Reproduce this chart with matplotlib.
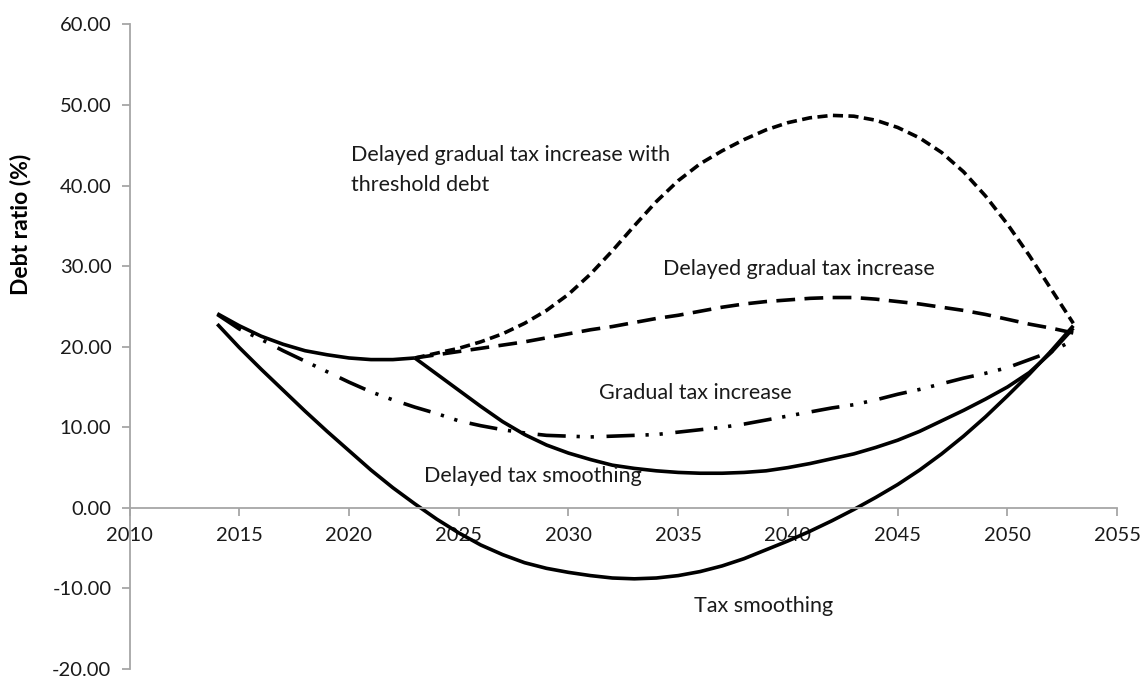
import matplotlib
matplotlib.use("Agg")
import matplotlib.pyplot as plt
from matplotlib.ticker import FormatStrFormatter

# years 2014 .. 2053
years = list(range(2014, 2054))

# common path of the delayed scenarios, 2014 .. 2023
delayed_common = [24.1, 22.6, 21.3, 20.3, 19.5, 19.0, 18.6, 18.4, 18.4, 18.6]

tax_smoothing = [22.8, 19.9, 17.2, 14.6, 12.0, 9.5, 7.1, 4.7, 2.5, 0.5,
                 -1.4, -3.1, -4.6, -5.8, -6.8, -7.5, -8.0, -8.4, -8.7, -8.8,
                 -8.7, -8.4, -7.9, -7.2, -6.3, -5.2, -4.1, -2.9, -1.6, -0.2,
                 1.3, 2.9, 4.7, 6.7, 8.9, 11.3, 13.9, 16.6, 19.5, 22.6]

gradual_tax = [24.0, 22.2, 20.9, 19.5, 18.2, 16.9, 15.6, 14.4, 13.4, 12.5,
               11.7, 10.8, 10.2, 9.7, 9.3, 9.0, 8.9, 8.8, 8.9, 9.0,
               9.1, 9.4, 9.7, 10.0, 10.4, 10.9, 11.4, 11.9, 12.4, 12.8,
               13.4, 14.1, 14.7, 15.4, 16.1, 16.7, 17.4, 18.4, 19.4, 20.8]

# 2023 .. 2053 (after the delay)
delayed_smoothing = [18.6, 16.6, 14.6, 12.6, 10.7, 9.1, 7.8, 6.8, 6.0, 5.3,
                     4.9, 4.6, 4.4, 4.3, 4.3, 4.4, 4.6, 5.0, 5.5, 6.1,
                     6.7, 7.5, 8.4, 9.5, 10.8, 12.1, 13.5, 15.0, 16.8, 19.3,
                     22.3]

delayed_gradual = [18.6, 19.0, 19.4, 19.8, 20.2, 20.6, 21.1, 21.6, 22.1, 22.5,
                   23.0, 23.5, 23.9, 24.4, 24.9, 25.3, 25.6, 25.8, 26.0, 26.1,
                   26.1, 25.9, 25.6, 25.3, 24.9, 24.5, 24.0, 23.4, 22.8, 22.3,
                   21.7]

delayed_threshold = [18.6, 19.2, 19.8, 20.6, 21.6, 22.9, 24.5, 26.5, 29.0, 31.9,
                     35.0, 38.0, 40.6, 42.7, 44.3, 45.7, 46.9, 47.8, 48.4, 48.7,
                     48.6, 48.1, 47.2, 45.9, 44.1, 41.7, 38.7, 35.2, 31.3, 27.1,
                     22.9]

late_years = years[9:]

plt.rcParams['font.family'] = ['Lato', 'DejaVu Sans']

fig = plt.figure(figsize=(11.4, 6.81), dpi=100)
ax = fig.add_axes([0.1136, 0.0175, 0.8664, 0.9468])

lw = 2.6
ax.plot(years, tax_smoothing, color='black', lw=lw, solid_capstyle='butt')
ax.plot(years[:10], delayed_common, color='black', lw=lw, solid_capstyle='butt')
ax.plot(late_years, delayed_smoothing, color='black', lw=lw, solid_capstyle='butt')
ax.plot(years, gradual_tax, color='black', lw=lw,
        dashes=(7.8, 3.0, 0.9, 3.0, 0.9, 3.5))
ax.plot(late_years, delayed_gradual, color='black', lw=lw, dashes=(5.2, 2.6))
ax.plot(late_years, delayed_threshold, color='black', lw=lw, dashes=(2.8, 1.5))

txt = '#1a1a1a'
fs = 15.5
ax.text(2020.1, 43.8, 'Delayed gradual tax increase with', fontsize=fs, color=txt,
        va='center', ha='left')
ax.text(2020.1, 40.1, 'threshold debt', fontsize=fs, color=txt, va='center', ha='left')
ax.text(2034.3, 29.6, 'Delayed gradual tax increase', fontsize=fs, color=txt,
        va='center', ha='left')
ax.text(2031.4, 14.3, 'Gradual tax increase', fontsize=fs, color=txt,
        va='center', ha='left')
ax.text(2023.4, 3.9, 'Delayed tax smoothing', fontsize=fs, color=txt,
        va='center', ha='left')
ax.text(2035.7, -12.2, 'Tax smoothing', fontsize=fs, color=txt,
        va='center', ha='left')

ax.set_xlim(2010, 2055)
ax.set_ylim(-20, 60)
ax.set_xticks(range(2010, 2056, 5))
ax.set_yticks(range(-20, 61, 10))
ax.yaxis.set_major_formatter(FormatStrFormatter('%.2f'))

for s in ['top', 'right']:
    ax.spines[s].set_visible(False)
ax.spines['bottom'].set_position(('data', 0))
ax.spines['left'].set_color('#a6a6a6')
ax.spines['bottom'].set_color('#a6a6a6')
ax.spines['left'].set_linewidth(1.3)
ax.spines['bottom'].set_linewidth(1.3)
ax.tick_params(axis='both', direction='out', length=6, width=1.3, color='#a6a6a6',
               labelsize=14.5, labelcolor=txt)
ax.tick_params(axis='x', pad=8)
ax.tick_params(axis='y', pad=7)

ax.set_ylabel('Debt ratio (%)', fontsize=16.5, fontweight='bold', color='black')
ax.yaxis.set_label_coords(-0.099, 0.69)

fig.savefig('out.png', dpi=100)
